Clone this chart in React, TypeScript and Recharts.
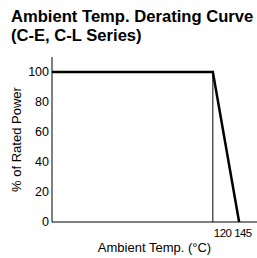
import React from 'react';
import { LineChart, Line, XAxis, YAxis, Label } from 'recharts';

const curveTemps = [-33, 120, 145];
const curvePower = [100, 100, 0];
const markerTemps = [120, 120];
const markerPower = [0, 100];
const xTicks = [120, 145];
const yTicks = [0, 20, 40, 60, 80, 100];

const curveData = curveTemps.map((t, i) => ({ t, p: curvePower[i] }));
const markerData = markerTemps.map((t, i) => ({ t, p: markerPower[i] }));

const FONT = '"Liberation Sans", Arial, Helvetica, sans-serif';

const XTick = (props: any) => {
  const { x, y, payload } = props;
  const shift = payload.value === 120 ? 1 : -5;
  return (
    <text x={x + shift} y={y + 7} textAnchor="start" fontSize={11.5} letterSpacing={-0.6} fill="#000" fontFamily={FONT}>
      {payload.value}
    </text>
  );
};

export default function App() {
  return (
    <div style={{ position: 'absolute', left: 0, top: 0, width: 257, height: 258, background: '#fff', fontFamily: FONT }}>
      <div style={{ position: 'absolute', left: 11, top: 7, fontSize: 16.6, fontWeight: 'bold', lineHeight: '19px', color: '#000', whiteSpace: 'nowrap' }}>
        Ambient Temp. Derating Curve
        <br />
        (C-E, C-L Series)
      </div>
      <div style={{ position: 'absolute', left: 0, top: 0 }}>
        <LineChart width={257} height={258} margin={{ top: 57, right: 0, bottom: 0, left: 0 }}>
          <XAxis
            type="number"
            dataKey="t"
            domain={[-33, 162]}
            ticks={xTicks}
            interval={0}
            tickLine={false}
            tick={<XTick />}
            axisLine={{ stroke: '#000', strokeWidth: 1 }}
            height={36}
            allowDataOverflow
          >
            <Label value="Ambient Temp. (°C)" position="insideBottom" offset={6} style={{ fontSize: 13, fill: '#000', fontFamily: FONT }} />
          </XAxis>
          <YAxis
            type="number"
            dataKey="p"
            domain={[0, 110]}
            ticks={yTicks}
            interval={0}
            tickLine={false}
            tickSize={3}
            tickMargin={0}
            tick={{ fontSize: 12.5, fill: '#000', fontFamily: FONT }}
            axisLine={{ stroke: '#000', strokeWidth: 1 }}
            width={52}
            allowDataOverflow
          >
            <Label value="% of Rated Power" angle={-90} position="center" dx={-10} style={{ fontSize: 13, fill: '#000', fontFamily: FONT, textAnchor: 'middle' }} />
          </YAxis>
          <Line data={markerData} dataKey="p" stroke="#000" strokeWidth={1} dot={false} isAnimationActive={false} />
          <Line data={curveData} dataKey="p" stroke="#000" strokeWidth={2.5} dot={false} isAnimationActive={false} strokeLinejoin="miter" />
        </LineChart>
      </div>
    </div>
  );
}
